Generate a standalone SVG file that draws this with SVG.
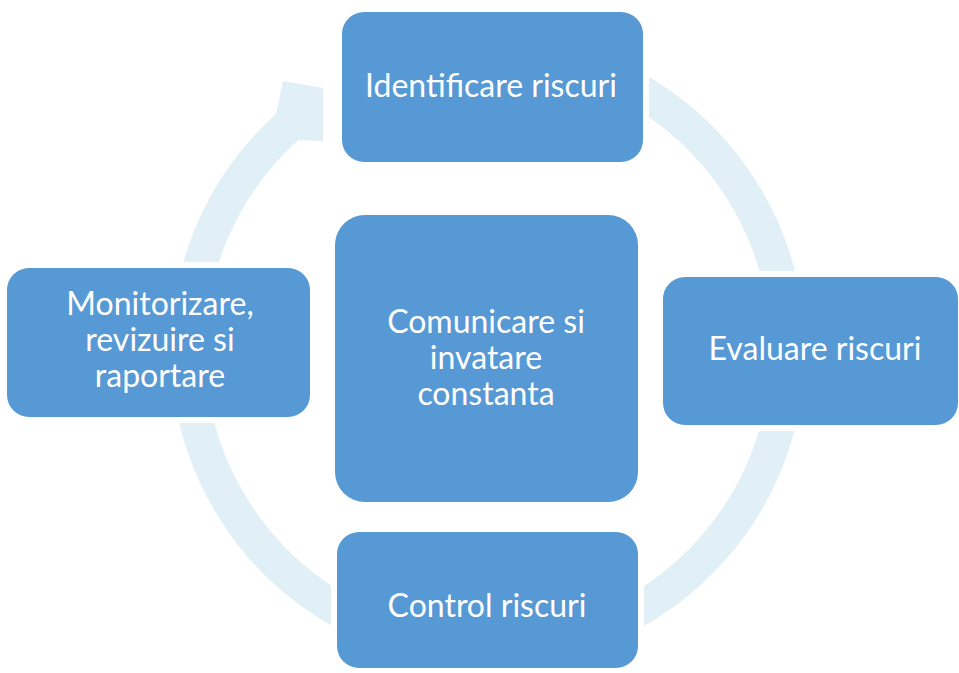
<svg xmlns="http://www.w3.org/2000/svg" width="959" height="673" viewBox="0 0 959 673">
  <style>
    .ring { fill: none; stroke: #e0f0f6; stroke-width: 34; stroke-linecap: butt; }
    .head { fill: #e0f0f6; }
    .halo { fill: #ffffff; }
    .box { fill: #5799d5; }
    .lbl { font-family: Lato, "Open Sans", sans-serif; font-size: 32px; fill: #ffffff; text-anchor: middle; }
  </style>
  <rect width="959" height="673" fill="#ffffff"/>
  <g id="connectors">
    <path class="ring" d="M 488 50 A 300 300 0 1 1 287.2 127"/>
    <polygon class="head" points="276,115 283,81 323,88 323,141 298,140"/>
  </g>
  <g id="node-identificare">
    <rect class="halo" x="336" y="6" width="313" height="162" rx="26"/>
    <rect class="box" x="342" y="12" width="301" height="150" rx="22"/>
    <text class="lbl" x="491" y="97">Identificare riscuri</text>
  </g>
  <g id="node-evaluare">
    <rect class="halo" x="657" y="271" width="307" height="160" rx="26"/>
    <rect class="box" x="663" y="277" width="295" height="148" rx="22"/>
    <text class="lbl" x="815" y="360">Evaluare riscuri</text>
  </g>
  <g id="node-control">
    <rect class="halo" x="331" y="526" width="313" height="148" rx="26"/>
    <rect class="box" x="337" y="532" width="301" height="136" rx="22"/>
    <text class="lbl" x="487" y="617">Control riscuri</text>
  </g>
  <g id="node-monitorizare">
    <rect class="halo" x="1" y="262" width="315" height="161" rx="26"/>
    <rect class="box" x="7" y="268" width="303" height="149" rx="22"/>
    <text class="lbl" x="160" y="315">Monitorizare,</text>
    <text class="lbl" x="160" y="351">revizuire si</text>
    <text class="lbl" x="160" y="387">raportare</text>
  </g>
  <g id="node-comunicare">
    <rect class="box" x="335" y="215" width="303" height="287" rx="30"/>
    <text class="lbl" x="486" y="333">Comunicare si</text>
    <text class="lbl" x="486" y="369">invatare</text>
    <text class="lbl" x="486" y="405">constanta</text>
  </g>
</svg>
